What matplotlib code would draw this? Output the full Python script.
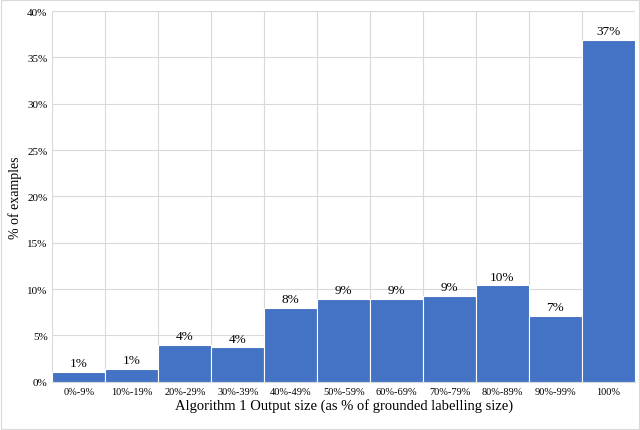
import matplotlib.pyplot as plt
import matplotlib.ticker as mtick
import numpy as np

categories = ['0%-9%', '10%-19%', '20%-29%', '30%-39%', '40%-49%', '50%-59%',
              '60%-69%', '70%-79%', '80%-89%', '90%-99%', '100%']
values = [1.1, 1.4, 4.0, 3.7, 8.0, 8.9, 8.9, 9.3, 10.4, 7.1, 36.9]

plt.rcParams['font.family'] = ['Liberation Serif', 'DejaVu Serif']

fig = plt.figure(figsize=(6.4, 4.31), dpi=100)
ax = fig.add_axes([0.082, 0.112, 0.91, 0.86])
x = np.arange(len(categories))
ax.bar(x, values, width=1.0, color='#4472C4', edgecolor='white', linewidth=0.8, zorder=3)
for xi, v in zip(x, values):
    ax.text(xi, v + 0.3, f"{round(v):.0f}%", ha='center', va='bottom', fontsize=9.5, zorder=4)

ax.set_xlim(-0.5, len(categories) - 0.5)
ax.set_ylim(0, 40)
ax.set_yticks(np.arange(0, 41, 5))
ax.yaxis.set_major_formatter(mtick.FuncFormatter(lambda v, p: f"{v:.0f}%"))
ax.set_xticks(x)
ax.set_xticklabels(categories, fontsize=7.5)
ax.tick_params(axis='y', labelsize=8, length=0)
ax.tick_params(axis='x', length=0)
ax.set_xticks(np.arange(-0.5, len(categories), 1), minor=True)
ax.grid(True, axis='y', color='#d9d9d9', linewidth=0.8, zorder=0)
ax.grid(True, axis='x', which='minor', color='#d9d9d9', linewidth=0.8, zorder=0)
ax.grid(False, axis='x', which='major')
ax.tick_params(axis='x', which='minor', length=0)
for s in ['top', 'right', 'left']:
    ax.spines[s].set_visible(False)
ax.spines['bottom'].set_color('#d9d9d9')
ax.set_ylabel('% of examples', fontsize=10)
ax.set_xlabel('Algorithm 1 Output size (as % of grounded labelling size)', fontsize=10.5, labelpad=2)

fig.patches.append(plt.Rectangle((0.002, 0.002), 0.996, 0.996, transform=fig.transFigure,
                                 fill=False, edgecolor='#d9d9d9', linewidth=0.8))
fig.savefig('out.png', dpi=100)
